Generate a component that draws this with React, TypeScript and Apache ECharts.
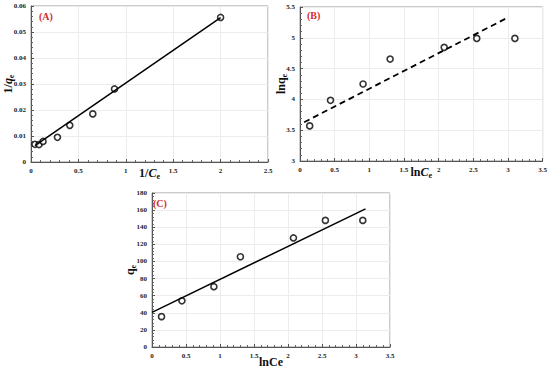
import React, { useEffect, useRef } from "react";
import * as echarts from "echarts";

// Panel A: Langmuir (1/Ce vs 1/qe)
const aX = [0.042, 0.085, 0.127, 0.279, 0.409, 0.652, 0.881, 2.0];
const aY = [0.0068, 0.0067, 0.0079, 0.0095, 0.0141, 0.0185, 0.0281, 0.0556];
const aFitX = [0.042, 2.0];
const aFitY = [0.0063, 0.0555];

// Panel B: Freundlich (lnCe vs lnqe)
const lnCe = [0.14, 0.44, 0.91, 1.3, 2.08, 2.55, 3.1];
const bY = [3.57, 3.985, 4.25, 4.655, 4.845, 4.99, 4.99];
const bFitX = [0.06, 3.0];
const bFitY = [3.63, 5.33];

// Panel C: Temkin (lnCe vs qe)
const cY = [35.5, 54, 70.5, 105.5, 127.5, 148, 148];
const cFitX = [0, 3.14];
const cFitY = [40.5, 161.5];

const FONT = "'Liberation Serif', 'Times New Roman', serif";
const RED = "#d42a2a";

function axisBase(extra: any) {
  return {
    type: "value",
    axisLine: { show: true, lineStyle: { color: "#555", width: 1 } },
    axisTick: { show: true, inside: true, length: 3, lineStyle: { color: "#555" } },
    minorTick: { show: true, splitNumber: 5, length: 2, lineStyle: { color: "#666" } },
    splitLine: { show: true, lineStyle: { color: "#ececec", width: 1 } },
    axisLabel: { fontFamily: FONT, fontWeight: "bold", fontSize: 7, color: "#222", margin: 5 },
    nameLocation: "middle",
    nameMoveOverlap: false,
    nameTextStyle: { fontFamily: FONT, fontWeight: "bold", fontSize: 12, color: "#111" },
    ...extra,
  };
}

const rich = {
  n: { fontFamily: FONT, fontWeight: "bold", fontSize: 12, color: "#111" },
  i: { fontFamily: FONT, fontWeight: "bold", fontStyle: "italic", fontSize: 12, color: "#111" },
  s: { fontFamily: FONT, fontWeight: "bold", fontSize: 8, color: "#111", padding: [6, 0, 0, 0] },
};

export default function App() {
  const ref = useRef<HTMLDivElement>(null);
  useEffect(() => {
    document.body.style.margin = "0";
    const chart = echarts.init(ref.current!, undefined, { renderer: "svg" });
    const scatterStyle = {
      color: "#fff",
      borderColor: "#000",
      borderWidth: 1.6,
    };
    chart.setOption({
      animation: false,
      backgroundColor: "#fff",
      grid: [
        { left: 31, top: 6, width: 237, height: 156, show: true, borderColor: "#999", borderWidth: 1 },
        { left: 300, top: 7, width: 244, height: 154, show: true, borderColor: "#999", borderWidth: 1 },
        { left: 152, top: 193, width: 238, height: 155, show: true, borderColor: "#999", borderWidth: 1 },
      ],
      xAxis: [
        axisBase({
          gridIndex: 0, min: 0, max: 2.5, interval: 0.5,
          name: "{n|1/}{i|C}{s|e}", nameGap: 4, nameTextStyle: { rich },
        }),
        axisBase({
          gridIndex: 1, min: 0, max: 3.5, interval: 0.5,
          name: "{n|ln}{i|C}{s|e}", nameGap: 4, nameTextStyle: { rich },
        }),
        axisBase({
          gridIndex: 2, min: 0, max: 3.5, interval: 0.5,
          name: "lnCe", nameGap: 9,
        }),
      ],
      yAxis: [
        axisBase({
          gridIndex: 0, min: 0, max: 0.06, interval: 0.01,
          name: "{n|1/}{i|q}{s|e}", nameGap: 16, nameTextStyle: { rich },
        }),
        axisBase({
          gridIndex: 1, min: 3, max: 5.5, interval: 0.5,
          name: "{n|lnq}{s|e}", nameGap: 12, nameTextStyle: { rich },
        }),
        axisBase({
          gridIndex: 2, min: 0, max: 180, interval: 20,
          name: "{n|q}{s|e}", nameGap: 15, nameTextStyle: { rich },
        }),
      ],
      series: [
        {
          type: "line", xAxisIndex: 0, yAxisIndex: 0, showSymbol: false, silent: true,
          data: aFitX.map((x, k) => [x, aFitY[k]]),
          lineStyle: { color: "#000", width: 1.5 },
        },
        {
          type: "scatter", xAxisIndex: 0, yAxisIndex: 0, symbolSize: 6,
          data: aX.map((x, k) => [x, aY[k]]), itemStyle: scatterStyle,
        },
        {
          type: "line", xAxisIndex: 1, yAxisIndex: 1, showSymbol: false, silent: true,
          data: bFitX.map((x, k) => [x, bFitY[k]]),
          lineStyle: { color: "#000", width: 1.8, type: [6, 4] },
        },
        {
          type: "scatter", xAxisIndex: 1, yAxisIndex: 1, symbolSize: 6,
          data: lnCe.map((x, k) => [x, bY[k]]), itemStyle: scatterStyle,
        },
        {
          type: "line", xAxisIndex: 2, yAxisIndex: 2, showSymbol: false, silent: true,
          data: cFitX.map((x, k) => [x, cFitY[k]]),
          lineStyle: { color: "#000", width: 1.5 },
        },
        {
          type: "scatter", xAxisIndex: 2, yAxisIndex: 2, symbolSize: 6,
          data: lnCe.map((x, k) => [x, cY[k]]), itemStyle: scatterStyle,
        },
      ],
      graphic: [
        { type: "text", left: 39, top: 11, style: { text: "(A)", fill: RED, font: `bold 10px ${FONT}` } },
        { type: "text", left: 307, top: 10, style: { text: "(B)", fill: RED, font: `bold 10px ${FONT}` } },
        { type: "text", left: 153, top: 198, style: { text: "(C)", fill: RED, font: `bold 10px ${FONT}` } },
      ],
    });
    return () => chart.dispose();
  }, []);
  return <div ref={ref} style={{ position: "absolute", left: 0, top: 0, width: 550, height: 369 }} />;
}
